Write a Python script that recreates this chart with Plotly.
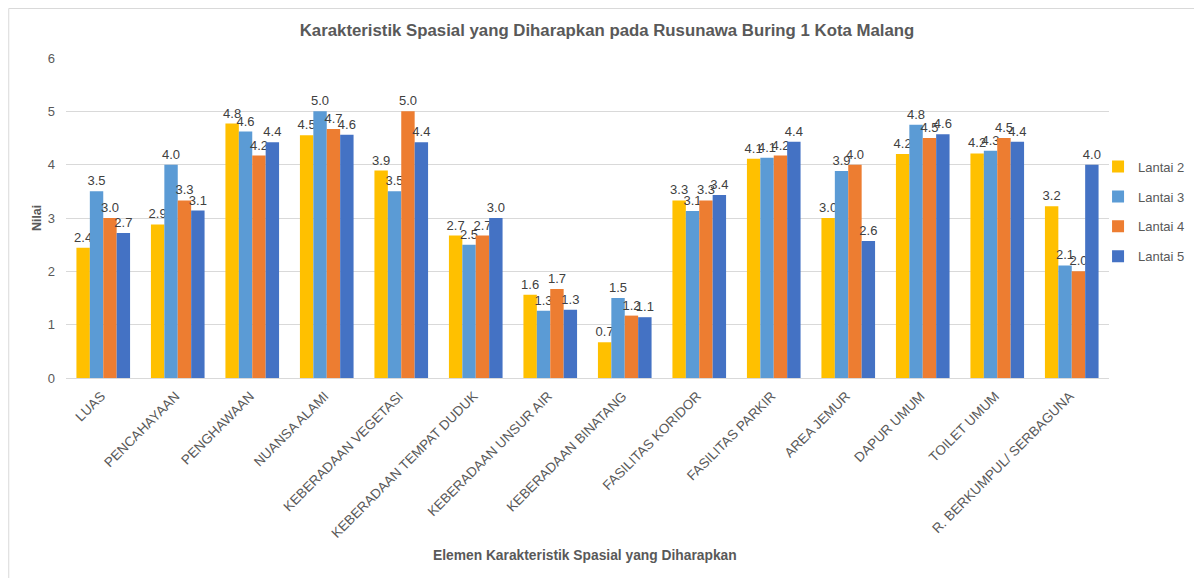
import plotly.graph_objects as go

categories = ["LUAS", "PENCAHAYAAN", "PENGHAWAAN", "NUANSA ALAMI", "KEBERADAAN VEGETASI",
              "KEBERADAAN TEMPAT DUDUK", "KEBERADAAN UNSUR AIR", "KEBERADAAN BINATANG",
              "FASILITAS KORIDOR", "FASILITAS PARKIR", "AREA JEMUR", "DAPUR UMUM",
              "TOILET UMUM", "R. BERKUMPUL/ SERBAGUNA"]
lantai2 = [2.44, 2.88, 4.77, 4.55, 3.89, 2.67, 1.56, 0.67, 3.33, 4.11, 3.00, 4.20, 4.21, 3.22]
lantai3 = [3.50, 4.00, 4.62, 5.00, 3.50, 2.50, 1.26, 1.50, 3.13, 4.13, 3.88, 4.75, 4.26, 2.11]
lantai4 = [3.00, 3.33, 4.17, 4.67, 5.00, 2.67, 1.67, 1.17, 3.33, 4.17, 4.00, 4.50, 4.50, 2.00]
lantai5 = [2.72, 3.14, 4.42, 4.56, 4.42, 3.00, 1.28, 1.14, 3.43, 4.43, 2.57, 4.57, 4.43, 4.00]
series_names = ["Lantai 2", "Lantai 3", "Lantai 4", "Lantai 5"]
colors = ["#FFC000", "#5B9BD5", "#ED7D31", "#4472C4"]

FONT = "Liberation Sans, Arial, sans-serif"
fig = go.Figure()
for name, vals, col in zip(series_names, [lantai2, lantai3, lantai4, lantai5], colors):
    fig.add_trace(go.Bar(
        x=categories, y=vals, name=name, marker_color=col, marker_line_width=0,
        texttemplate="%{y:.1f}", textposition="outside", constraintext="none",
        cliponaxis=False, textfont=dict(size=13, color="#404040", family=FONT),
        legendgroup=name,
    ))

fig.update_layout(
    width=1194, height=570,
    margin=dict(l=58, r=88, t=50, b=200),
    paper_bgcolor="white", plot_bgcolor="white",
    barmode="group", bargap=0.28, bargroupgap=0,
    font=dict(family=FONT, color="#595959"),
    title=dict(text="<b>Karakteristik Spasial yang Diharapkan pada Rusunawa Buring 1 Kota Malang</b>",
               x=0.5017, xanchor="center", y=0.9614, yanchor="middle",
               font=dict(size=16.8, color="#595959", family=FONT)),
    showlegend=True,
    legend=dict(x=0.9895, xanchor="left", y=0.52, yanchor="middle",
                traceorder="grouped", tracegroupgap=10, itemwidth=30,
                font=dict(size=13, color="#595959", family=FONT),
                bgcolor="rgba(0,0,0,0)"),
    xaxis=dict(tickangle=-45, tickfont=dict(size=13.5, color="#595959", family=FONT),
               showline=True, linecolor="#d9d9d9", linewidth=1, showgrid=False,
               ticks="", ticklabelshift=-2, ticklabelstandoff=4),
    yaxis=dict(range=[0, 6], dtick=1, showgrid=True, gridcolor="#d9d9d9", gridwidth=1,
               zeroline=False, showline=False, ticks="", ticklabelstandoff=10,
               tickfont=dict(size=13, color="#595959", family=FONT)),
    annotations=[
        dict(text="<b>Nilai</b>", x=-0.0277, y=0.5, xref="paper", yref="paper",
             xanchor="center", yanchor="middle",
             textangle=-90, showarrow=False, font=dict(size=12.5, color="#595959", family=FONT)),
        dict(text="<b>Elemen Karakteristik Spasial yang Diharapkan</b>", x=0.498, y=-0.556,
             xref="paper", yref="paper", xanchor="center", yanchor="middle", showarrow=False,
             font=dict(size=13.8, color="#595959", family=FONT)),
    ],
    shapes=[
        dict(type="line", xref="paper", yref="paper", x0=-0.0549, x1=1.084, y0=1.1547, y1=1.1547,
             line=dict(color="#d9d9d9", width=1), layer="below"),
        dict(type="line", xref="paper", yref="paper", x0=-0.0549, x1=-0.0549, y0=-0.625, y1=1.1547,
             line=dict(color="#d9d9d9", width=1), layer="below"),
    ],
)

fig.write_html("out.html")
